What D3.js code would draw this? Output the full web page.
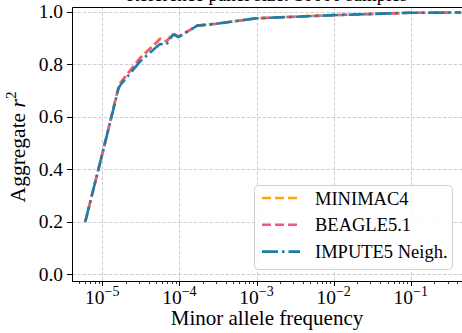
<!DOCTYPE html>
<html>
<head>
<meta charset="utf-8">
<script src="https://cdn.jsdelivr.net/npm/d3@7"></script>
<style>
  html, body { margin: 0; padding: 0; background: #fff; }
  svg text { font-family: 'Liberation Serif', 'Times New Roman', Times, 'DejaVu Serif', serif; }
</style>
</head>
<body>
<div id="chart"></div>
<script>
// minor allele frequency bins (x) and aggregate r^2 per tool
const maf = [6.0e-6, 1.02e-5, 1.62e-5, 1.7e-5, 3.1e-5, 5.1e-5, 5.6e-5, 6.8e-5, 8.3e-5, 9.7e-5, 1.5e-4, 1.7e-4, 3.0e-4, 1.0e-3, 1.0e-2, 1.0e-1, 0.45];
const minimac4 = [0.20, 0.47, 0.712, 0.728, 0.825, 0.885, 0.898, 0.888, 0.918, 0.906, 0.938, 0.948, 0.955, 0.976, 0.988, 0.997, 0.998];
const beagle51 = [0.20, 0.47, 0.712, 0.728, 0.825, 0.885, 0.898, 0.888, 0.918, 0.906, 0.938, 0.948, 0.955, 0.976, 0.988, 0.997, 0.998];
const impute5 = [0.20, 0.47, 0.708, 0.72, 0.812, 0.868, 0.878, 0.876, 0.915, 0.904, 0.938, 0.948, 0.955, 0.976, 0.988, 0.997, 0.998];

const seriesNames = ["MINIMAC4", "BEAGLE5.1", "IMPUTE5 Neigh."];
const xTicks = [1e-5, 1e-4, 1e-3, 1e-2, 1e-1];
const xTickExp = ["−5", "−4", "−3", "−2", "−1"];
const yTicks = [0.0, 0.2, 0.4, 0.6, 0.8, 1.0];

const width = 462, height = 333;
const plot = { left: 72, right: 462, top: 7, bottom: 281 };
const FONT = "'Liberation Serif', 'Times New Roman', Times, serif";

const svg = d3.select("#chart").append("svg")
    .attr("width", width)
    .attr("height", height)
    .style("display", "block")
    .attr("font-family", FONT);

const x = d3.scaleLog()
    .domain([Math.pow(10, -5.393), Math.pow(10, -0.335)])
    .range([plot.left, plot.right]);

const y = d3.scaleLinear()
    .domain([-0.0248, 1.019])
    .range([plot.bottom, plot.top]);

// title (cut off at the top of the image, as in the source figure)
svg.append("text")
    .attr("x", (plot.left + plot.right) / 2)
    .attr("y", 1)
    .attr("text-anchor", "middle")
    .attr("font-size", 19)
    .text("Reference panel size: 10000 samples");

// grid
const grid = svg.append("g").attr("stroke", "#c8c8c8").attr("stroke-width", 0.9).attr("stroke-dasharray", "3.5,1.8");
grid.selectAll(".gx").data(xTicks).join("line")
    .attr("x1", d => Math.round(x(d)) + 0.5).attr("x2", d => Math.round(x(d)) + 0.5)
    .attr("y1", plot.top).attr("y2", plot.bottom);
grid.selectAll(".gy").data(yTicks).join("line")
    .attr("y1", d => Math.round(y(d)) + 0.5).attr("y2", d => Math.round(y(d)) + 0.5)
    .attr("x1", plot.left).attr("x2", plot.right);

// lines
svg.append("clipPath").attr("id", "clip")
    .append("rect")
    .attr("x", plot.left).attr("y", plot.top)
    .attr("width", plot.right - plot.left).attr("height", plot.bottom - plot.top);

const line = d3.line().x(d => x(d[0])).y(d => y(d[1]));

const series = [
    { name: seriesNames[0], values: minimac4, color: "#ffa600", dash: "9,4" },
    { name: seriesNames[1], values: beagle51, color: "#ee5a78", dash: "9,4" },
    { name: seriesNames[2], values: impute5, color: "#1a7fa8", dash: "16,4,2.5,4" }
];

svg.append("g").attr("clip-path", "url(#clip)")
    .selectAll("path")
    .data(series)
    .join("path")
    .attr("d", s => line(maf.map((m, i) => [m, s.values[i]])))
    .attr("fill", "none")
    .attr("stroke", s => s.color)
    .attr("stroke-width", 2.6)
    .attr("stroke-dasharray", s => s.dash)
    .attr("stroke-linejoin", "round");

// spines
svg.append("path")
    .attr("d", `M${plot.left + 0.5},${plot.bottom + 0.5}V${plot.top + 0.5}H${plot.right}M${plot.left},${plot.bottom + 0.5}H${plot.right}`)
    .attr("fill", "none")
    .attr("stroke", "#000")
    .attr("stroke-width", 1);

// x ticks
const minorTicks = [];
for (let e = -6; e <= 0; e++) {
    for (let k = 2; k <= 9; k++) {
        const v = k * Math.pow(10, e);
        if (x(v) > plot.left && x(v) < plot.right) minorTicks.push(v);
    }
}
svg.append("g").selectAll("line").data(minorTicks).join("line")
    .attr("x1", d => Math.round(x(d)) + 0.5).attr("x2", d => Math.round(x(d)) + 0.5)
    .attr("y1", plot.bottom).attr("y2", plot.bottom + 3)
    .attr("stroke", "#000").attr("stroke-width", 0.8);
svg.append("g").selectAll("line").data(xTicks).join("line")
    .attr("x1", d => Math.round(x(d)) + 0.5).attr("x2", d => Math.round(x(d)) + 0.5)
    .attr("y1", plot.bottom).attr("y2", plot.bottom + 5)
    .attr("stroke", "#000").attr("stroke-width", 1);

const xl = svg.append("g").selectAll("text").data(xTicks).join("text")
    .attr("x", d => x(d))
    .attr("y", 304)
    .attr("text-anchor", "middle")
    .attr("font-size", 19.5);
xl.append("tspan").text("10");
xl.append("tspan").attr("dy", -8.5).attr("font-size", 14).text((d, i) => xTickExp[i]);

// y ticks
svg.append("g").selectAll("line").data(yTicks).join("line")
    .attr("x1", plot.left - 5).attr("x2", plot.left)
    .attr("y1", d => Math.round(y(d)) + 0.5).attr("y2", d => Math.round(y(d)) + 0.5)
    .attr("stroke", "#000").attr("stroke-width", 1);
svg.append("g").selectAll("text").data(yTicks).join("text")
    .attr("x", 63)
    .attr("y", d => y(d) + 6.5)
    .attr("text-anchor", "end")
    .attr("font-size", 19.5)
    .text(d => d.toFixed(1));

// axis labels
svg.append("text")
    .attr("x", (plot.left + plot.right) / 2)
    .attr("y", 325)
    .attr("text-anchor", "middle")
    .attr("font-size", 21)
    .text("Minor allele frequency");

const yl = svg.append("text")
    .attr("transform", `translate(25,${(plot.top + plot.bottom) / 2 + 3}) rotate(-90)`)
    .attr("text-anchor", "middle")
    .attr("font-size", 21.5);
yl.append("tspan").text("Aggregate ");
yl.append("tspan").attr("font-style", "italic").text("r");
yl.append("tspan").attr("dy", -9).attr("font-size", 15).text("2");

// legend
const lg = svg.append("g");
lg.append("rect")
    .attr("x", 254.5).attr("y", 185.5)
    .attr("width", 198).attr("height", 84)
    .attr("rx", 4)
    .attr("fill", "#fff").attr("fill-opacity", 0.85)
    .attr("stroke", "#d0d0d0").attr("stroke-width", 1);
const rows = lg.selectAll("g").data(series).join("g")
    .attr("transform", (d, i) => `translate(0,${198 + i * 26.8})`);
rows.append("line")
    .attr("x1", 262).attr("x2", 300)
    .attr("stroke", d => d.color)
    .attr("stroke-width", 2.6)
    .attr("stroke-dasharray", d => d.dash);
rows.append("text")
    .attr("x", 315).attr("y", 6.5)
    .attr("font-size", 18.5)
    .text(d => d.name);
</script>
</body>
</html>
